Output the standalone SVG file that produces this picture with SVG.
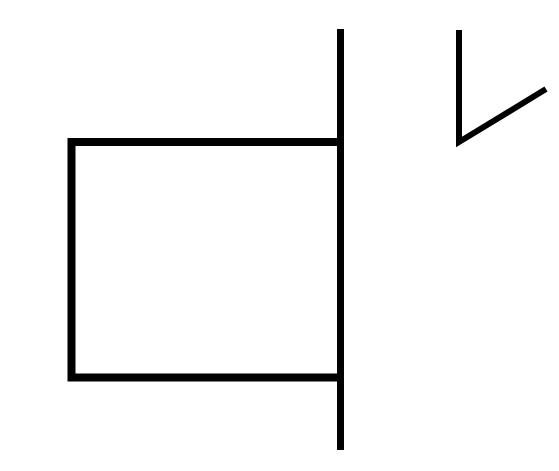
<svg xmlns="http://www.w3.org/2000/svg" width="559" height="471" viewBox="0 0 559 471">
<style>
.s{fill:none;stroke:#000;stroke-linejoin:miter;}
</style>
<rect width="559" height="471" fill="#fff"/>
<g id="box">
<polyline class="s" stroke-width="8" points="340,142 71.5,142 71.5,377.5 340,377.5"/>
</g>
<g id="wall">
<line class="s" stroke-width="7" x1="340.5" y1="29" x2="340.5" y2="450"/>
</g>
<g id="vmark">
<polyline class="s" stroke-width="6" points="459,30 459,142 546,89"/>
</g>
</svg>
